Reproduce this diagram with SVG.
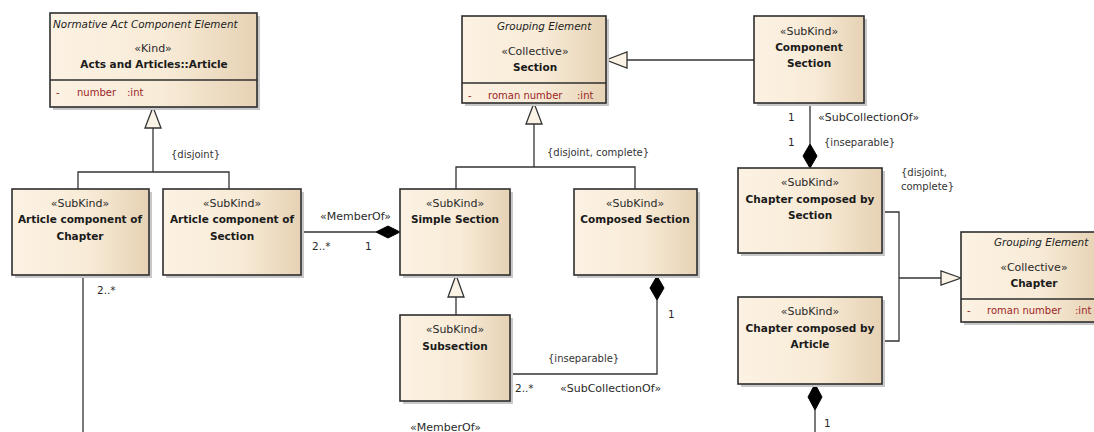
<svg xmlns="http://www.w3.org/2000/svg" width="1094" height="432" viewBox="0 0 1094 432">
<style>
text{font-family:"DejaVu Sans","Liberation Sans",sans-serif;fill:#222;}
.st{font-size:11px;text-anchor:middle;fill:#2a2a2a;}
.nm{font-size:10.5px;font-weight:bold;text-anchor:middle;fill:#1a1a1a;}
.it{font-size:10.4px;font-style:italic;fill:#222;}
.at{font-size:10px;fill:#9b2626;}
.lb{font-size:10px;fill:#333;}
.ml{font-size:10.5px;fill:#2a2a2a;}
.sl{font-size:11px;fill:#2a2a2a;}
.box{fill:url(#g);stroke:#2e2e2e;stroke-width:1.6;}
.sh{fill:#c8c8c8;}
.dv{stroke:#2e2e2e;stroke-width:1.6;}
.ln{fill:none;stroke:#333;stroke-width:1.3;}
.tri{fill:#fbf3e6;stroke:#333;stroke-width:1.3;}
.dia{fill:#000;stroke:#000;stroke-width:1;}
</style>
<defs>
<linearGradient id="g" x1="0" y1="0" x2="1" y2="0">
<stop offset="0" stop-color="#fcf2e3"/>
<stop offset="0.55" stop-color="#f8ebd7"/>
<stop offset="1" stop-color="#e6d2b4"/>
</linearGradient>
</defs>
<rect width="1094" height="432" fill="#fff"/>

<g id="connectors">
<polyline class="ln" points="78,189 78,172 229,172 229,189"/>
<line class="ln" x1="153" y1="172" x2="153" y2="128"/>
<polygon class="tri" points="153,107 145,128 161,128"/>
<text class="lb" x="171" y="158">{disjoint}</text>
<line class="ln" x1="754" y1="60" x2="627" y2="60"/>
<polygon class="tri" points="606,60 627,52 627,68"/>
<polyline class="ln" points="456,189 456,167 635,167 635,189"/>
<line class="ln" x1="534" y1="167" x2="534" y2="124"/>
<polygon class="tri" points="534,103 526,124 542,124"/>
<text class="lb" x="547" y="156">{disjoint, complete}</text>
<line class="ln" x1="456" y1="315" x2="456" y2="297"/>
<polygon class="tri" points="456,275 448,297 464,297"/>
<line class="ln" x1="301" y1="232" x2="376" y2="232"/>
<polygon class="dia" points="400,232 388,226 376,232 388,238"/>
<text class="sl" x="320" y="220">«MemberOf»</text>
<text class="ml" x="312" y="250">2..*</text>
<text class="ml" x="365" y="250">1</text>
<line class="ln" x1="83" y1="275" x2="83" y2="432"/>
<text class="ml" x="97" y="294">2..*</text>
<polyline class="ln" points="510,374 657,374 657,300"/>
<polygon class="dia" points="657,276 664,288 657,300 650,288"/>
<text class="ml" x="668" y="318">1</text>
<text class="lb" x="548" y="362">{inseparable}</text>
<text class="ml" x="515" y="392">2..*</text>
<text class="sl" x="560" y="392">«SubCollectionOf»</text>
<text class="sl" x="410" y="431">«MemberOf»</text>
<line class="ln" x1="810" y1="103" x2="810" y2="144"/>
<polygon class="dia" points="810,144 817,156 810,168 803,156"/>
<text class="ml" x="788" y="121">1</text>
<text class="ml" x="788" y="146">1</text>
<text class="sl" x="818" y="121">«SubCollectionOf»</text>
<text class="lb" x="824" y="146">{inseparable}</text>
<polyline class="ln" points="882,212 899,212 899,341 882,341"/>
<line class="ln" x1="899" y1="278" x2="941" y2="278"/>
<polygon class="tri" points="961,278 941,271 941,285"/>
<text class="lb" x="901" y="176">{disjoint,</text>
<text class="lb" x="901" y="190">complete}</text>
<polygon class="dia" points="815,384 822,397 815,410 808,397"/>
<line class="ln" x1="815" y1="410" x2="815" y2="432"/>
<text class="ml" x="824" y="427">1</text>
</g>

<g id="article">
<rect class="sh" x="53" y="16" width="207" height="94"/>
<rect class="box" x="50" y="13" width="207" height="94"/>
<line class="dv" x1="50" y1="80" x2="257" y2="80"/>
<text class="it" x="53" y="28">Normative Act Component Element</text>
<text class="st" x="153" y="52">«Kind»</text>
<text class="nm" x="154" y="68">Acts and Articles::Article</text>
<text class="at" x="56" y="96">-</text>
<text class="at" x="77" y="96">number</text>
<text class="at" x="127" y="96">:int</text>
</g>

<g id="section">
<rect class="sh" x="465" y="19" width="144" height="87"/>
<rect class="box" x="462" y="16" width="144" height="87"/>
<line class="dv" x1="462" y1="83" x2="606" y2="83"/>
<text class="it" x="497" y="30">Grouping Element</text>
<text class="st" x="535" y="55">«Collective»</text>
<text class="nm" x="535" y="71">Section</text>
<text class="at" x="468" y="99">-</text>
<text class="at" x="488" y="99">roman number</text>
<text class="at" x="577" y="99">:int</text>
</g>

<g id="component-section">
<rect class="sh" x="757" y="19" width="110" height="87"/>
<rect class="box" x="754" y="16" width="110" height="87"/>
<text class="st" x="809" y="35">«SubKind»</text>
<text class="nm" x="809" y="51">Component</text>
<text class="nm" x="809" y="67">Section</text>
</g>

<g id="article-component-of-chapter">
<rect class="sh" x="15" y="192" width="137" height="86"/>
<rect class="box" x="12" y="189" width="137" height="86"/>
<text class="st" x="80" y="207">«SubKind»</text>
<text class="nm" x="80" y="223">Article component of</text>
<text class="nm" x="80" y="240">Chapter</text>
</g>

<g id="article-component-of-section">
<rect class="sh" x="166" y="192" width="138" height="86"/>
<rect class="box" x="163" y="189" width="138" height="86"/>
<text class="st" x="232" y="207">«SubKind»</text>
<text class="nm" x="232" y="223">Article component of</text>
<text class="nm" x="232" y="240">Section</text>
</g>

<g id="simple-section">
<rect class="sh" x="403" y="192" width="110" height="86"/>
<rect class="box" x="400" y="189" width="110" height="86"/>
<text class="st" x="455" y="207">«SubKind»</text>
<text class="nm" x="455" y="223">Simple Section</text>
</g>

<g id="composed-section">
<rect class="sh" x="577" y="192" width="123" height="86"/>
<rect class="box" x="574" y="189" width="123" height="86"/>
<text class="st" x="635" y="207">«SubKind»</text>
<text class="nm" x="635" y="223">Composed Section</text>
</g>

<g id="subsection">
<rect class="sh" x="403" y="318" width="110" height="86"/>
<rect class="box" x="400" y="315" width="110" height="86"/>
<text class="st" x="455" y="333">«SubKind»</text>
<text class="nm" x="455" y="350">Subsection</text>
</g>

<g id="chapter-composed-by-section">
<rect class="sh" x="741" y="171" width="144" height="85"/>
<rect class="box" x="738" y="168" width="144" height="85"/>
<text class="st" x="810" y="186">«SubKind»</text>
<text class="nm" x="810" y="203">Chapter composed by</text>
<text class="nm" x="810" y="219">Section</text>
</g>

<g id="chapter-composed-by-article">
<rect class="sh" x="741" y="300" width="144" height="87"/>
<rect class="box" x="738" y="297" width="144" height="87"/>
<text class="st" x="810" y="315">«SubKind»</text>
<text class="nm" x="810" y="332">Chapter composed by</text>
<text class="nm" x="810" y="348">Article</text>
</g>

<g id="chapter">
<rect class="sh" x="964" y="235" width="140" height="90"/>
<rect class="box" x="961" y="232" width="140" height="90"/>
<line class="dv" x1="961" y1="299" x2="1094" y2="299"/>
<text class="it" x="994" y="246">Grouping Element</text>
<text class="st" x="1034" y="271">«Collective»</text>
<text class="nm" x="1034" y="287">Chapter</text>
<text class="at" x="967" y="314">-</text>
<text class="at" x="987" y="314">roman number</text>
<text class="at" x="1075" y="314">:int</text>
</g>
</svg>
